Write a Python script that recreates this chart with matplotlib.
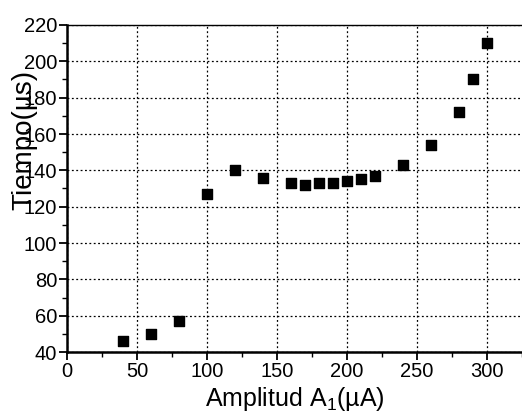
import numpy as np
import matplotlib
matplotlib.use("Agg")
import matplotlib.pyplot as plt
from matplotlib.ticker import MultipleLocator

plt.rcParams['font.family'] = ['Liberation Sans', 'DejaVu Sans']
plt.rcParams['mathtext.fontset'] = 'custom'
plt.rcParams['mathtext.rm'] = 'Liberation Sans'

amplitud = [40, 60, 80, 100, 120, 140, 160, 170, 180, 190, 200, 210, 220, 240, 260, 280, 290, 300]
tiempo = [46, 50, 57, 127, 140, 136, 133, 132, 133, 133, 134, 135, 137, 143, 154, 172, 190, 210]

fig = plt.figure(figsize=(5.22, 4.19), dpi=100)
ax = fig.add_axes([67 / 522, 1 - 352 / 419, 1 - 67 / 522, (352 - 25) / 419])

ax.scatter(amplitud, tiempo, marker='s', s=55, color='black', zorder=3)

ax.set_xlim(0, 325)
ax.set_ylim(40, 220)
ax.xaxis.set_major_locator(MultipleLocator(50))
ax.xaxis.set_minor_locator(MultipleLocator(25))
ax.yaxis.set_major_locator(MultipleLocator(20))
ax.yaxis.set_minor_locator(MultipleLocator(10))
ax.grid(True, which='major', linestyle=(0, (1.5, 2)), color='black', linewidth=0.9)

ax.spines['left'].set_linewidth(1.8)
ax.spines['bottom'].set_linewidth(1.8)
ax.spines['top'].set_linewidth(1.0)
ax.spines['right'].set_visible(False)
ax.tick_params(which='major', direction='out', length=6, width=1.3, labelsize=14.5, pad=1)
ax.tick_params(which='minor', direction='out', length=3.5, width=1.0)

ax.set_xlabel('Amplitud A$_1$(µA)', fontsize=18)
ax.xaxis.set_label_coords(0.5, -0.1)
# y label sits over the tick labels, like in the original
ax.set_ylabel('Tiempo(µs)', fontsize=20)
ax.yaxis.set_label_coords(-0.066, 0.65)

fig.savefig('out.png', dpi=100)
